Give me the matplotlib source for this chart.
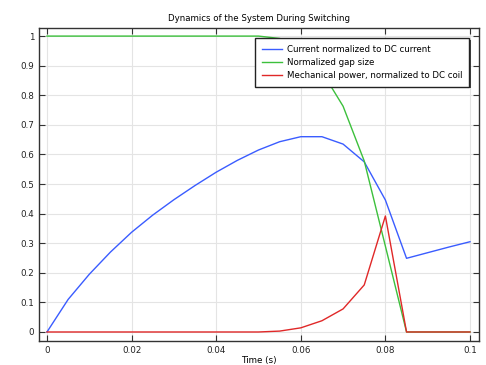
import matplotlib
matplotlib.use("Agg")
import matplotlib.pyplot as plt
import matplotlib.patheffects as pe

time = [0.000, 0.005, 0.010, 0.015, 0.020, 0.025, 0.030, 0.035, 0.040, 0.045,
        0.050, 0.055, 0.060, 0.065, 0.070, 0.075, 0.080, 0.085, 0.090, 0.095, 0.100]
current = [0.0, 0.11, 0.195, 0.27, 0.337, 0.395, 0.447, 0.495, 0.54, 0.58,
           0.615, 0.643, 0.66, 0.66, 0.635, 0.575, 0.446, 0.249, 0.268, 0.287, 0.305]
gap = [1.0, 1.0, 1.0, 1.0, 1.0, 1.0, 1.0, 1.0, 1.0, 1.0,
       1.0, 0.992, 0.97, 0.88, 0.763, 0.578, 0.29, 0.0, 0.0, 0.0, 0.0]
power = [0.0, 0.0, 0.0, 0.0, 0.0, 0.0, 0.0, 0.0, 0.0, 0.0,
         0.0, 0.003, 0.014, 0.038, 0.078, 0.159, 0.392, 0.0, 0.0, 0.0, 0.0]

labels = ["Current normalized to DC current", "Normalized gap size",
          "Mechanical power, normalized to DC coil"]
xticks = [0, 0.02, 0.04, 0.06, 0.08, 0.1]
xticklabels = ["0", "0.02", "0.04", "0.06", "0.08", "0.1"]
yticks = [0, 0.1, 0.2, 0.3, 0.4, 0.5, 0.6, 0.7, 0.8, 0.9, 1]
yticklabels = ["0", "0.1", "0.2", "0.3", "0.4", "0.5", "0.6", "0.7", "0.8", "0.9", "1"]

fig = plt.figure(figsize=(4.86, 3.65), dpi=100)
ax = fig.add_axes([0.0802, 0.0658, 0.9054, 0.8572])

ax.plot(time, current, color="#3a5cff", lw=1.0, label=labels[0])
ax.plot(time, gap, color="#3cc03c", lw=1.0, label=labels[1])
ax.plot(time, power, color="#e02828", lw=1.0, label=labels[2])

ax.set_xlim(-0.00189, 0.10213)
ax.set_ylim(-0.0304, 1.027)
ax.set_xticks(xticks)
ax.set_xticklabels(xticklabels)
ax.set_yticks(yticks)
ax.set_yticklabels(yticklabels)
ax.tick_params(direction="in", top=True, right=True, labelsize=6.3, length=4, width=0.8,
               colors="#333333", labelcolor="#222222", pad=3.5)
ax.grid(True, color="#e4e4e4", lw=0.8)
ax.set_axisbelow(True)
for s in ax.spines.values():
    s.set_color("#333333")
    s.set_linewidth(1.0)

ax.set_title("Dynamics of the System During Switching", fontsize=6.2, pad=5)
ax.set_xlabel("Time (s)", fontsize=6.3, labelpad=1)

leg = ax.legend(loc="upper right", bbox_to_anchor=(0.977, 0.968), borderaxespad=0,
                fontsize=6.2, fancybox=False, shadow=False,
                framealpha=1, edgecolor="#222222",
                handlelength=2.4, handletextpad=0.55, borderpad=0.75, labelspacing=0.5)
frame = leg.get_frame()
frame.set_linewidth(1.0)
frame.set_path_effects([pe.SimplePatchShadow(offset=(1.2, -1.2), shadow_rgbFace="#333333", alpha=0.9),
                        pe.Normal()])

fig.savefig("out.png", dpi=100)
